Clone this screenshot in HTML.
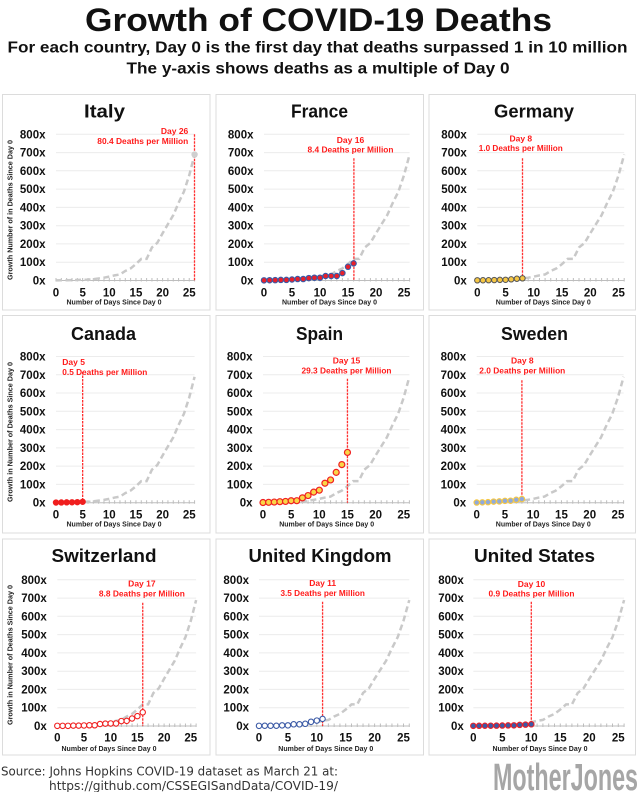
<!DOCTYPE html>
<html><head><meta charset="utf-8"><style>
html,body{margin:0;padding:0;background:#fff;}
svg{display:block;}
.pn{fill:#fff;stroke:#dcdcdc;stroke-width:1}
.g{stroke:#ececec;stroke-width:1}
.ax{stroke:#bdbdbd;stroke-width:1}
.tk{stroke:#bdbdbd;stroke-width:3.5}
.yl{font-family:"Liberation Sans",sans-serif;font-weight:bold;font-size:11.5px;fill:#111;text-anchor:end}
.xl{font-family:"Liberation Sans",sans-serif;font-weight:bold;font-size:11.5px;fill:#111;text-anchor:middle}
.cv{fill:none;stroke:#c9c9c9;stroke-width:2.5;stroke-dasharray:6 3.5}
.rl{stroke:#ff3030;stroke-width:1.3;stroke-dasharray:2.5 1}
.rt{font-family:"Liberation Sans",sans-serif;font-weight:bold;font-size:8.5px;fill:#ff1a1a;text-anchor:middle}
.tt{font-family:"Liberation Sans",sans-serif;font-weight:bold;font-size:18px;fill:#111;text-anchor:middle}
.at{font-family:"Liberation Sans",sans-serif;font-weight:bold;font-size:7px;fill:#222;text-anchor:middle}
</style></head><body>
<svg width="639" height="792" viewBox="0 0 639 792" xmlns="http://www.w3.org/2000/svg">
<rect width="639" height="792" fill="#fff"/>
<text x="318.5" y="31" font-family="Liberation Sans, sans-serif" font-weight="bold" font-size="32" fill="#111" text-anchor="middle" textLength="467" lengthAdjust="spacingAndGlyphs">Growth of COVID-19 Deaths</text>
<text x="317.5" y="52.5" font-family="Liberation Sans, sans-serif" font-weight="bold" font-size="15.5" fill="#111" text-anchor="middle" textLength="620" lengthAdjust="spacingAndGlyphs">For each country, Day 0 is the first day that deaths surpassed 1 in 10 million</text>
<text x="318" y="73.5" font-family="Liberation Sans, sans-serif" font-weight="bold" font-size="15.5" fill="#111" text-anchor="middle" textLength="383" lengthAdjust="spacingAndGlyphs">The y-axis shows deaths as a multiple of Day 0</text>

<!-- panels -->
<rect class="pn" x="2.5" y="94.5" width="207.5" height="215.5"/>
<rect class="pn" x="216" y="94.5" width="207.5" height="215.5"/>
<rect class="pn" x="429" y="94.5" width="206.5" height="215.5"/>
<rect class="pn" x="2.5" y="315.5" width="207.5" height="217.5"/>
<rect class="pn" x="216" y="315.5" width="207.5" height="217.5"/>
<rect class="pn" x="429" y="315.5" width="206.5" height="217.5"/>
<rect class="pn" x="2.5" y="539" width="207.5" height="216"/>
<rect class="pn" x="216" y="539" width="207.5" height="216"/>
<rect class="pn" x="429" y="539" width="206.5" height="216"/>

<!-- titles -->
<text class="tt" x="104.5" y="117.5" textLength="41" lengthAdjust="spacingAndGlyphs">Italy</text>
<text class="tt" x="319.5" y="117.5" textLength="57" lengthAdjust="spacingAndGlyphs">France</text>
<text class="tt" x="534" y="117.5" textLength="80" lengthAdjust="spacingAndGlyphs">Germany</text>
<text class="tt" x="103.5" y="340" textLength="65" lengthAdjust="spacingAndGlyphs">Canada</text>
<text class="tt" x="319.5" y="340" textLength="47" lengthAdjust="spacingAndGlyphs">Spain</text>
<text class="tt" x="534.5" y="340" textLength="67" lengthAdjust="spacingAndGlyphs">Sweden</text>
<text class="tt" x="104" y="562" textLength="105" lengthAdjust="spacingAndGlyphs">Switzerland</text>
<text class="tt" x="320" y="562" textLength="143" lengthAdjust="spacingAndGlyphs">United Kingdom</text>
<text class="tt" x="534.5" y="562" textLength="121" lengthAdjust="spacingAndGlyphs">United States</text>

<!-- y-axis titles col1 -->
<text class="at" transform="translate(12.5,210) rotate(-90)" x="0" y="0" textLength="140" lengthAdjust="spacingAndGlyphs">Growth Number of in Deaths Since Day 0</text>
<text class="at" transform="translate(12.5,432) rotate(-90)" x="0" y="0" textLength="140" lengthAdjust="spacingAndGlyphs">Growth in Number of Deaths Since Day 0</text>
<text class="at" transform="translate(12.5,655) rotate(-90)" x="0" y="0" textLength="140" lengthAdjust="spacingAndGlyphs">Growth in Number of Deaths Since Day 0</text>

<!-- x-axis titles -->
<text class="at" x="114" y="304.5" textLength="95" lengthAdjust="spacingAndGlyphs">Number of Days Since Day 0</text>
<text class="at" x="329.5" y="304.5" textLength="95" lengthAdjust="spacingAndGlyphs">Number of Days Since Day 0</text>
<text class="at" x="543.3" y="304.5" textLength="95" lengthAdjust="spacingAndGlyphs">Number of Days Since Day 0</text>
<text class="at" x="114" y="526.5" textLength="95" lengthAdjust="spacingAndGlyphs">Number of Days Since Day 0</text>
<text class="at" x="326.7" y="526.5" textLength="95" lengthAdjust="spacingAndGlyphs">Number of Days Since Day 0</text>
<text class="at" x="543.3" y="526.5" textLength="95" lengthAdjust="spacingAndGlyphs">Number of Days Since Day 0</text>
<text class="at" x="109" y="750.8" textLength="95" lengthAdjust="spacingAndGlyphs">Number of Days Since Day 0</text>
<text class="at" x="325.8" y="750.8" textLength="95" lengthAdjust="spacingAndGlyphs">Number of Days Since Day 0</text>
<text class="at" x="540" y="750.8" textLength="95" lengthAdjust="spacingAndGlyphs">Number of Days Since Day 0</text>

<!-- ===== ITALY ===== -->
<g transform="translate(56,280.5)">
<g class="g"><line x1="0" x2="138.6" y1="-18.3" y2="-18.3"/><line x1="0" x2="138.6" y1="-36.6" y2="-36.6"/><line x1="0" x2="138.6" y1="-54.8" y2="-54.8"/><line x1="0" x2="138.6" y1="-73.1" y2="-73.1"/><line x1="0" x2="138.6" y1="-91.4" y2="-91.4"/><line x1="0" x2="138.6" y1="-109.7" y2="-109.7"/><line x1="0" x2="138.6" y1="-127.9" y2="-127.9"/><line x1="0" x2="138.6" y1="-146.2" y2="-146.2"/></g>
<line class="ax" x1="0" x2="138.6" y1="0" y2="0"/>
<line class="tk" x1="-0.5" x2="139.1" y1="-0.75" y2="-0.75" stroke-dasharray="1 4.33"/>
<text class="yl" x="-10.5" y="-142.2">800x</text><text class="yl" x="-10.5" y="-123.9">700x</text><text class="yl" x="-10.5" y="-105.7">600x</text><text class="yl" x="-10.5" y="-87.4">500x</text><text class="yl" x="-10.5" y="-69.1">400x</text><text class="yl" x="-10.5" y="-50.8">300x</text><text class="yl" x="-10.5" y="-32.6">200x</text><text class="yl" x="-10.5" y="-14.3">100x</text><text class="yl" x="-10.5" y="4">0x</text>
<text class="xl" x="0" y="16.2">0</text><text class="xl" x="26.65" y="16.2">5</text><text class="xl" x="53.3" y="16.2">10</text><text class="xl" x="79.95" y="16.2">15</text><text class="xl" x="106.6" y="16.2">20</text><text class="xl" x="133.25" y="16.2">25</text>
<polyline class="cv" points="0,-0.18 5.33,-0.26 10.66,-0.31 15.99,-0.44 21.32,-0.55 26.65,-0.76 31.98,-0.89 37.31,-1.36 42.64,-2.06 47.97,-2.8 53.3,-3.85 58.63,-5.13 63.96,-6.08 69.29,-9.56 74.62,-12.08 79.95,-16.46 85.28,-21.58 90.61,-21.58 95.94,-33.05 101.27,-37.62 106.6,-47.21 111.93,-56.33 117.26,-65.33 122.59,-77.72 127.92,-88.87 133.25,-105.24 138.58,-125.94"/>
<line class="rl" x1="138.5" x2="138.5" y1="-146.2" y2="0"/>
<circle cx="138.58" cy="-125.94" r="3.2" fill="#cfcfcf"/>
<text class="rt" x="132.3" y="-146.5" style="text-anchor:end">Day 26</text>
<text class="rt" x="132.3" y="-136.5" style="text-anchor:end" textLength="91" lengthAdjust="spacingAndGlyphs">80.4 Deaths per Million</text>
</g>

<!-- ===== FRANCE ===== -->
<g transform="translate(264,280.5)">
<g class="g"><line x1="0" x2="145.6" y1="-18.3" y2="-18.3"/><line x1="0" x2="145.6" y1="-36.6" y2="-36.6"/><line x1="0" x2="145.6" y1="-54.8" y2="-54.8"/><line x1="0" x2="145.6" y1="-73.1" y2="-73.1"/><line x1="0" x2="145.6" y1="-91.4" y2="-91.4"/><line x1="0" x2="145.6" y1="-109.7" y2="-109.7"/><line x1="0" x2="145.6" y1="-127.9" y2="-127.9"/><line x1="0" x2="145.6" y1="-146.2" y2="-146.2"/></g>
<line class="ax" x1="0" x2="145.6" y1="0" y2="0"/>
<line class="tk" x1="-0.5" x2="146.1" y1="-0.75" y2="-0.75" stroke-dasharray="1 4.6"/>
<text class="yl" x="-10.5" y="-142.2">800x</text><text class="yl" x="-10.5" y="-123.9">700x</text><text class="yl" x="-10.5" y="-105.7">600x</text><text class="yl" x="-10.5" y="-87.4">500x</text><text class="yl" x="-10.5" y="-69.1">400x</text><text class="yl" x="-10.5" y="-50.8">300x</text><text class="yl" x="-10.5" y="-32.6">200x</text><text class="yl" x="-10.5" y="-14.3">100x</text><text class="yl" x="-10.5" y="4">0x</text>
<text class="xl" x="0" y="16.2">0</text><text class="xl" x="28" y="16.2">5</text><text class="xl" x="56" y="16.2">10</text><text class="xl" x="84" y="16.2">15</text><text class="xl" x="112" y="16.2">20</text><text class="xl" x="140" y="16.2">25</text>
<polyline class="cv" points="0,-0.18 5.6,-0.26 11.2,-0.31 16.8,-0.44 22.4,-0.55 28,-0.76 33.6,-0.89 39.2,-1.36 44.8,-2.06 50.4,-2.8 56,-3.85 61.6,-5.13 67.2,-6.08 72.8,-9.56 78.4,-12.08 84,-16.46 89.6,-21.58 95.2,-21.58 100.8,-33.05 106.4,-37.62 112,-47.21 117.6,-56.33 123.2,-65.33 128.8,-77.72 134.4,-88.87 140,-105.24 145.6,-125.94"/>
<line class="rl" x1="89.9" x2="89.9" y1="-122.2" y2="0"/>
<g fill="#e8202a" stroke="#3b5aa6" stroke-width="1.1">
<circle cx="0" cy="-0.18" r="2.7"/><circle cx="5.6" cy="-0.27" r="2.7"/><circle cx="11.2" cy="-0.33" r="2.7"/><circle cx="16.8" cy="-0.58" r="2.7"/><circle cx="22.4" cy="-0.58" r="2.7"/><circle cx="28" cy="-1" r="2.7"/><circle cx="33.6" cy="-1.46" r="2.7"/><circle cx="39.2" cy="-1.46" r="2.7"/><circle cx="44.8" cy="-2.41" r="2.7"/><circle cx="50.4" cy="-2.78" r="2.7"/><circle cx="56" cy="-2.78" r="2.7"/><circle cx="61.6" cy="-4.51" r="2.7"/><circle cx="67.2" cy="-4.51" r="2.7"/><circle cx="72.8" cy="-4.51" r="2.7"/><circle cx="78.4" cy="-7.4" r="2.7"/><circle cx="84" cy="-13.7" r="2.7"/><circle cx="89.6" cy="-17.12" r="2.7"/>
</g>
<text class="rt" x="86.5" y="-137.5">Day 16</text>
<text class="rt" x="86.5" y="-128" textLength="86" lengthAdjust="spacingAndGlyphs">8.4 Deaths per Million</text>
</g>

<!-- ===== GERMANY ===== -->
<g transform="translate(477.3,280.5)">
<g class="g"><line x1="0" x2="146.9" y1="-18.3" y2="-18.3"/><line x1="0" x2="146.9" y1="-36.6" y2="-36.6"/><line x1="0" x2="146.9" y1="-54.8" y2="-54.8"/><line x1="0" x2="146.9" y1="-73.1" y2="-73.1"/><line x1="0" x2="146.9" y1="-91.4" y2="-91.4"/><line x1="0" x2="146.9" y1="-109.7" y2="-109.7"/><line x1="0" x2="146.9" y1="-127.9" y2="-127.9"/><line x1="0" x2="146.9" y1="-146.2" y2="-146.2"/></g>
<line class="ax" x1="0" x2="146.9" y1="0" y2="0"/>
<line class="tk" x1="-0.5" x2="147.4" y1="-0.75" y2="-0.75" stroke-dasharray="1 4.65"/>
<text class="yl" x="-10.5" y="-142.2">800x</text><text class="yl" x="-10.5" y="-123.9">700x</text><text class="yl" x="-10.5" y="-105.7">600x</text><text class="yl" x="-10.5" y="-87.4">500x</text><text class="yl" x="-10.5" y="-69.1">400x</text><text class="yl" x="-10.5" y="-50.8">300x</text><text class="yl" x="-10.5" y="-32.6">200x</text><text class="yl" x="-10.5" y="-14.3">100x</text><text class="yl" x="-10.5" y="4">0x</text>
<text class="xl" x="0" y="16.2">0</text><text class="xl" x="28.25" y="16.2">5</text><text class="xl" x="56.5" y="16.2">10</text><text class="xl" x="84.75" y="16.2">15</text><text class="xl" x="113" y="16.2">20</text><text class="xl" x="141.25" y="16.2">25</text>
<polyline class="cv" points="0,-0.18 5.65,-0.26 11.3,-0.31 16.95,-0.44 22.6,-0.55 28.25,-0.76 33.9,-0.89 39.55,-1.36 45.2,-2.06 50.85,-2.8 56.5,-3.85 62.15,-5.13 67.8,-6.08 73.45,-9.56 79.1,-12.08 84.75,-16.46 90.4,-21.58 96.05,-21.58 101.7,-33.05 107.35,-37.62 113,-47.21 118.65,-56.33 124.3,-65.33 129.95,-77.72 135.6,-88.87 141.25,-105.24 146.9,-125.94"/>
<line class="rl" x1="45.2" x2="45.2" y1="-122.2" y2="0"/>
<g fill="#f6c744" stroke="#555" stroke-width="1">
<circle cx="0" cy="-0.18" r="2.7"/><circle cx="5.65" cy="-0.24" r="2.7"/><circle cx="11.3" cy="-0.29" r="2.7"/><circle cx="16.95" cy="-0.44" r="2.7"/><circle cx="22.6" cy="-0.63" r="2.7"/><circle cx="28.25" cy="-0.73" r="2.7"/><circle cx="33.9" cy="-1.15" r="2.7"/><circle cx="39.55" cy="-1.75" r="2.7"/><circle cx="45.2" cy="-2.19" r="2.7"/>
</g>
<text class="rt" x="43.5" y="-139">Day 8</text>
<text class="rt" x="43.5" y="-129.5" textLength="84" lengthAdjust="spacingAndGlyphs">1.0 Deaths per Million</text>
</g>

<!-- ===== CANADA ===== -->
<g transform="translate(56,502.7)">
<g class="g"><line x1="0" x2="138.6" y1="-18.3" y2="-18.3"/><line x1="0" x2="138.6" y1="-36.6" y2="-36.6"/><line x1="0" x2="138.6" y1="-54.8" y2="-54.8"/><line x1="0" x2="138.6" y1="-73.1" y2="-73.1"/><line x1="0" x2="138.6" y1="-91.4" y2="-91.4"/><line x1="0" x2="138.6" y1="-109.7" y2="-109.7"/><line x1="0" x2="138.6" y1="-127.9" y2="-127.9"/><line x1="0" x2="138.6" y1="-146.2" y2="-146.2"/></g>
<line class="ax" x1="0" x2="138.6" y1="0" y2="0"/>
<line class="tk" x1="-0.5" x2="139.1" y1="-0.75" y2="-0.75" stroke-dasharray="1 4.33"/>
<text class="yl" x="-10.5" y="-142.2">800x</text><text class="yl" x="-10.5" y="-123.9">700x</text><text class="yl" x="-10.5" y="-105.7">600x</text><text class="yl" x="-10.5" y="-87.4">500x</text><text class="yl" x="-10.5" y="-69.1">400x</text><text class="yl" x="-10.5" y="-50.8">300x</text><text class="yl" x="-10.5" y="-32.6">200x</text><text class="yl" x="-10.5" y="-14.3">100x</text><text class="yl" x="-10.5" y="4">0x</text>
<text class="xl" x="0" y="16">0</text><text class="xl" x="26.65" y="16">5</text><text class="xl" x="53.3" y="16">10</text><text class="xl" x="79.95" y="16">15</text><text class="xl" x="106.6" y="16">20</text><text class="xl" x="133.25" y="16">25</text>
<polyline class="cv" points="0,-0.18 5.33,-0.26 10.66,-0.31 15.99,-0.44 21.32,-0.55 26.65,-0.76 31.98,-0.89 37.31,-1.36 42.64,-2.06 47.97,-2.8 53.3,-3.85 58.63,-5.13 63.96,-6.08 69.29,-9.56 74.62,-12.08 79.95,-16.46 85.28,-21.58 90.61,-21.58 95.94,-33.05 101.27,-37.62 106.6,-47.21 111.93,-56.33 117.26,-65.33 122.59,-77.72 127.92,-88.87 133.25,-105.24 138.58,-125.94"/>
<line class="rl" x1="26.65" x2="26.65" y1="-130.7" y2="0"/>
<g fill="#f01e1e" stroke="#f01e1e" stroke-width="1">
<circle cx="0" cy="-0.18" r="2.7"/><circle cx="5.33" cy="-0.23" r="2.7"/><circle cx="10.66" cy="-0.37" r="2.7"/><circle cx="15.99" cy="-0.41" r="2.7"/><circle cx="21.32" cy="-0.55" r="2.7"/><circle cx="26.65" cy="-0.91" r="2.7"/>
</g>
<text class="rt" x="6.3" y="-137.7" style="text-anchor:start">Day 5</text>
<text class="rt" x="6.3" y="-127.7" style="text-anchor:start" textLength="85" lengthAdjust="spacingAndGlyphs">0.5 Deaths per Million</text>
</g>

<!-- ===== SPAIN ===== -->
<g transform="translate(263,502.7)">
<g class="g"><line x1="0" x2="146.4" y1="-18.3" y2="-18.3"/><line x1="0" x2="146.4" y1="-36.6" y2="-36.6"/><line x1="0" x2="146.4" y1="-54.8" y2="-54.8"/><line x1="0" x2="146.4" y1="-73.1" y2="-73.1"/><line x1="0" x2="146.4" y1="-91.4" y2="-91.4"/><line x1="0" x2="146.4" y1="-109.7" y2="-109.7"/><line x1="0" x2="146.4" y1="-127.9" y2="-127.9"/><line x1="0" x2="146.4" y1="-146.2" y2="-146.2"/></g>
<line class="ax" x1="0" x2="146.4" y1="0" y2="0"/>
<line class="tk" x1="-0.5" x2="146.9" y1="-0.75" y2="-0.75" stroke-dasharray="1 4.63"/>
<text class="yl" x="-10.5" y="-142.2">800x</text><text class="yl" x="-10.5" y="-123.9">700x</text><text class="yl" x="-10.5" y="-105.7">600x</text><text class="yl" x="-10.5" y="-87.4">500x</text><text class="yl" x="-10.5" y="-69.1">400x</text><text class="yl" x="-10.5" y="-50.8">300x</text><text class="yl" x="-10.5" y="-32.6">200x</text><text class="yl" x="-10.5" y="-14.3">100x</text><text class="yl" x="-10.5" y="4">0x</text>
<text class="xl" x="0" y="16">0</text><text class="xl" x="28.15" y="16">5</text><text class="xl" x="56.3" y="16">10</text><text class="xl" x="84.45" y="16">15</text><text class="xl" x="112.6" y="16">20</text><text class="xl" x="140.75" y="16">25</text>
<polyline class="cv" points="0,-0.18 5.63,-0.26 11.26,-0.31 16.89,-0.44 22.52,-0.55 28.15,-0.76 33.78,-0.89 39.41,-1.36 45.04,-2.06 50.67,-2.8 56.3,-3.85 61.93,-5.13 67.56,-6.08 73.19,-9.56 78.82,-12.08 84.45,-16.46 90.08,-21.58 95.71,-21.58 101.34,-33.05 106.97,-37.62 112.6,-47.21 118.23,-56.33 123.86,-65.33 129.49,-77.72 135.12,-88.87 140.75,-105.24 146.38,-125.94"/>
<line class="rl" x1="84.45" x2="84.45" y1="-124" y2="0"/>
<g fill="#f9d648" stroke="#f02020" stroke-width="1.2">
<circle cx="0" cy="-0.18" r="3"/><circle cx="5.63" cy="-0.37" r="3"/><circle cx="11.26" cy="-0.62" r="3"/><circle cx="16.89" cy="-1.02" r="3"/><circle cx="22.52" cy="-1.28" r="3"/><circle cx="28.15" cy="-1.97" r="3"/><circle cx="33.78" cy="-2.01" r="3"/><circle cx="39.41" cy="-4.86" r="3"/><circle cx="45.04" cy="-7.13" r="3"/><circle cx="50.67" cy="-10.56" r="3"/><circle cx="56.3" cy="-12.5" r="3"/><circle cx="61.93" cy="-19.48" r="3"/><circle cx="67.56" cy="-22.76" r="3"/><circle cx="73.19" cy="-30.33" r="3"/><circle cx="78.82" cy="-38.11" r="3"/><circle cx="84.45" cy="-50.24" r="3"/>
</g>
<text class="rt" x="83.5" y="-139.2">Day 15</text>
<text class="rt" x="83.5" y="-129.2" textLength="90" lengthAdjust="spacingAndGlyphs">29.3 Deaths per Million</text>
</g>

<!-- ===== SWEDEN ===== -->
<g transform="translate(476.7,502.7)">
<g class="g"><line x1="0" x2="146.9" y1="-18.3" y2="-18.3"/><line x1="0" x2="146.9" y1="-36.6" y2="-36.6"/><line x1="0" x2="146.9" y1="-54.8" y2="-54.8"/><line x1="0" x2="146.9" y1="-73.1" y2="-73.1"/><line x1="0" x2="146.9" y1="-91.4" y2="-91.4"/><line x1="0" x2="146.9" y1="-109.7" y2="-109.7"/><line x1="0" x2="146.9" y1="-127.9" y2="-127.9"/><line x1="0" x2="146.9" y1="-146.2" y2="-146.2"/></g>
<line class="ax" x1="0" x2="146.9" y1="0" y2="0"/>
<line class="tk" x1="-0.5" x2="147.4" y1="-0.75" y2="-0.75" stroke-dasharray="1 4.65"/>
<text class="yl" x="-10.5" y="-142.2">800x</text><text class="yl" x="-10.5" y="-123.9">700x</text><text class="yl" x="-10.5" y="-105.7">600x</text><text class="yl" x="-10.5" y="-87.4">500x</text><text class="yl" x="-10.5" y="-69.1">400x</text><text class="yl" x="-10.5" y="-50.8">300x</text><text class="yl" x="-10.5" y="-32.6">200x</text><text class="yl" x="-10.5" y="-14.3">100x</text><text class="yl" x="-10.5" y="4">0x</text>
<text class="xl" x="0" y="16">0</text><text class="xl" x="28.25" y="16">5</text><text class="xl" x="56.5" y="16">10</text><text class="xl" x="84.75" y="16">15</text><text class="xl" x="113" y="16">20</text><text class="xl" x="141.25" y="16">25</text>
<polyline class="cv" points="0,-0.18 5.65,-0.26 11.3,-0.31 16.95,-0.44 22.6,-0.55 28.25,-0.76 33.9,-0.89 39.55,-1.36 45.2,-2.06 50.85,-2.8 56.5,-3.85 62.15,-5.13 67.8,-6.08 73.45,-9.56 79.1,-12.08 84.75,-16.46 90.4,-21.58 96.05,-21.58 101.7,-33.05 107.35,-37.62 113,-47.21 118.65,-56.33 124.3,-65.33 129.95,-77.72 135.6,-88.87 141.25,-105.24 146.9,-125.94"/>
<line class="rl" x1="45.2" x2="45.2" y1="-122.4" y2="0"/>
<g fill="#8faadc" stroke="#f5c744" stroke-width="1.1">
<circle cx="0" cy="-0.18" r="2.7"/><circle cx="5.65" cy="-0.37" r="2.7"/><circle cx="11.3" cy="-0.55" r="2.7"/><circle cx="16.95" cy="-1.1" r="2.7"/><circle cx="22.6" cy="-1.28" r="2.7"/><circle cx="28.25" cy="-1.83" r="2.7"/><circle cx="33.9" cy="-2.01" r="2.7"/><circle cx="39.55" cy="-2.92" r="2.7"/><circle cx="45.2" cy="-3.65" r="2.7"/>
</g>
<text class="rt" x="45.6" y="-139.2">Day 8</text>
<text class="rt" x="45.6" y="-129.2" textLength="86" lengthAdjust="spacingAndGlyphs">2.0 Deaths per Million</text>
</g>

<!-- ===== SWITZERLAND ===== -->
<g transform="translate(57.3,726)">
<g class="g"><line x1="0" x2="138.8" y1="-18.3" y2="-18.3"/><line x1="0" x2="138.8" y1="-36.6" y2="-36.6"/><line x1="0" x2="138.8" y1="-54.8" y2="-54.8"/><line x1="0" x2="138.8" y1="-73.1" y2="-73.1"/><line x1="0" x2="138.8" y1="-91.4" y2="-91.4"/><line x1="0" x2="138.8" y1="-109.7" y2="-109.7"/><line x1="0" x2="138.8" y1="-127.9" y2="-127.9"/><line x1="0" x2="138.8" y1="-146.2" y2="-146.2"/></g>
<line class="ax" x1="0" x2="138.8" y1="0" y2="0"/>
<line class="tk" x1="-0.5" x2="139.3" y1="-0.75" y2="-0.75" stroke-dasharray="1 4.34"/>
<text class="yl" x="-10.5" y="-142.2">800x</text><text class="yl" x="-10.5" y="-123.9">700x</text><text class="yl" x="-10.5" y="-105.7">600x</text><text class="yl" x="-10.5" y="-87.4">500x</text><text class="yl" x="-10.5" y="-69.1">400x</text><text class="yl" x="-10.5" y="-50.8">300x</text><text class="yl" x="-10.5" y="-32.6">200x</text><text class="yl" x="-10.5" y="-14.3">100x</text><text class="yl" x="-10.5" y="4">0x</text>
<text class="xl" x="0" y="15.5">0</text><text class="xl" x="26.7" y="15.5">5</text><text class="xl" x="53.4" y="15.5">10</text><text class="xl" x="80.1" y="15.5">15</text><text class="xl" x="106.8" y="15.5">20</text><text class="xl" x="133.5" y="15.5">25</text>
<polyline class="cv" points="0,-0.18 5.34,-0.26 10.68,-0.31 16.02,-0.44 21.36,-0.55 26.7,-0.76 32.04,-0.89 37.38,-1.36 42.72,-2.06 48.06,-2.8 53.4,-3.85 58.74,-5.13 64.08,-6.08 69.42,-9.56 74.76,-12.08 80.1,-16.46 85.44,-21.58 90.78,-21.58 96.12,-33.05 101.46,-37.62 106.8,-47.21 112.14,-56.33 117.48,-65.33 122.82,-77.72 128.16,-88.87 133.5,-105.24 138.84,-125.94"/>
<line class="rl" x1="85.44" x2="85.44" y1="-123.3" y2="0"/>
<g fill="#fff" stroke="#f02020" stroke-width="1.1">
<circle cx="0" cy="-0.18" r="2.7"/><circle cx="5.34" cy="-0.18" r="2.7"/><circle cx="10.68" cy="-0.18" r="2.7"/><circle cx="16.02" cy="-0.37" r="2.7"/><circle cx="21.36" cy="-0.37" r="2.7"/><circle cx="26.7" cy="-0.55" r="2.7"/><circle cx="32.04" cy="-0.73" r="2.7"/><circle cx="37.38" cy="-0.73" r="2.7"/><circle cx="42.72" cy="-2.01" r="2.7"/><circle cx="48.06" cy="-2.38" r="2.7"/><circle cx="53.4" cy="-2.56" r="2.7"/><circle cx="58.74" cy="-2.56" r="2.7"/><circle cx="64.08" cy="-4.93" r="2.7"/><circle cx="69.42" cy="-5.12" r="2.7"/><circle cx="74.76" cy="-7.49" r="2.7"/><circle cx="80.1" cy="-9.87" r="2.7"/><circle cx="85.44" cy="-13.7" r="2.7"/>
</g>
<text class="rt" x="84.6" y="-139.5">Day 17</text>
<text class="rt" x="84.6" y="-129.5" textLength="86" lengthAdjust="spacingAndGlyphs">8.8 Deaths per Million</text>
</g>

<!-- ===== UNITED KINGDOM ===== -->
<g transform="translate(259,726)">
<g class="g"><line x1="0" x2="150.3" y1="-18.3" y2="-18.3"/><line x1="0" x2="150.3" y1="-36.6" y2="-36.6"/><line x1="0" x2="150.3" y1="-54.8" y2="-54.8"/><line x1="0" x2="150.3" y1="-73.1" y2="-73.1"/><line x1="0" x2="150.3" y1="-91.4" y2="-91.4"/><line x1="0" x2="150.3" y1="-109.7" y2="-109.7"/><line x1="0" x2="150.3" y1="-127.9" y2="-127.9"/><line x1="0" x2="150.3" y1="-146.2" y2="-146.2"/></g>
<line class="ax" x1="0" x2="150.3" y1="0" y2="0"/>
<line class="tk" x1="-0.5" x2="150.8" y1="-0.75" y2="-0.75" stroke-dasharray="1 4.78"/>
<text class="yl" x="-10" y="-142.2">800x</text><text class="yl" x="-10" y="-123.9">700x</text><text class="yl" x="-10" y="-105.7">600x</text><text class="yl" x="-10" y="-87.4">500x</text><text class="yl" x="-10" y="-69.1">400x</text><text class="yl" x="-10" y="-50.8">300x</text><text class="yl" x="-10" y="-32.6">200x</text><text class="yl" x="-10" y="-14.3">100x</text><text class="yl" x="-10" y="4">0x</text>
<text class="xl" x="0" y="15.5">0</text><text class="xl" x="28.9" y="15.5">5</text><text class="xl" x="57.8" y="15.5">10</text><text class="xl" x="86.7" y="15.5">15</text><text class="xl" x="115.6" y="15.5">20</text><text class="xl" x="144.5" y="15.5">25</text>
<polyline class="cv" points="0,-0.18 5.78,-0.26 11.56,-0.31 17.34,-0.44 23.12,-0.55 28.9,-0.76 34.68,-0.89 40.46,-1.36 46.24,-2.06 52.02,-2.8 57.8,-3.85 63.58,-5.13 69.36,-6.08 75.14,-9.56 80.92,-12.08 86.7,-16.46 92.48,-21.58 98.26,-21.58 104.04,-33.05 109.82,-37.62 115.6,-47.21 121.38,-56.33 127.16,-65.33 132.94,-77.72 138.72,-88.87 144.5,-105.24 150.28,-125.94"/>
<line class="rl" x1="63.58" x2="63.58" y1="-124.3" y2="0"/>
<g fill="#fff" stroke="#3b5aa6" stroke-width="1.1">
<circle cx="0" cy="-0.18" r="2.7"/><circle cx="5.78" cy="-0.24" r="2.7"/><circle cx="11.56" cy="-0.24" r="2.7"/><circle cx="17.34" cy="-0.24" r="2.7"/><circle cx="23.12" cy="-0.64" r="2.7"/><circle cx="28.9" cy="-0.64" r="2.7"/><circle cx="34.68" cy="-1.7" r="2.7"/><circle cx="40.46" cy="-1.7" r="2.7"/><circle cx="46.24" cy="-2.19" r="2.7"/><circle cx="52.02" cy="-4.2" r="2.7"/><circle cx="57.8" cy="-5.43" r="2.7"/><circle cx="63.58" cy="-7.13" r="2.7"/>
</g>
<text class="rt" x="63.7" y="-140">Day 11</text>
<text class="rt" x="63.7" y="-130" textLength="84.5" lengthAdjust="spacingAndGlyphs">3.5 Deaths per Million</text>
</g>

<!-- ===== UNITED STATES ===== -->
<g transform="translate(473.3,726)">
<g class="g"><line x1="0" x2="150.8" y1="-18.3" y2="-18.3"/><line x1="0" x2="150.8" y1="-36.6" y2="-36.6"/><line x1="0" x2="150.8" y1="-54.8" y2="-54.8"/><line x1="0" x2="150.8" y1="-73.1" y2="-73.1"/><line x1="0" x2="150.8" y1="-91.4" y2="-91.4"/><line x1="0" x2="150.8" y1="-109.7" y2="-109.7"/><line x1="0" x2="150.8" y1="-127.9" y2="-127.9"/><line x1="0" x2="150.8" y1="-146.2" y2="-146.2"/></g>
<line class="ax" x1="0" x2="150.8" y1="0" y2="0"/>
<line class="tk" x1="-0.5" x2="151.3" y1="-0.75" y2="-0.75" stroke-dasharray="1 4.8"/>
<text class="yl" x="-9.5" y="-142.2">800x</text><text class="yl" x="-9.5" y="-123.9">700x</text><text class="yl" x="-9.5" y="-105.7">600x</text><text class="yl" x="-9.5" y="-87.4">500x</text><text class="yl" x="-9.5" y="-69.1">400x</text><text class="yl" x="-9.5" y="-50.8">300x</text><text class="yl" x="-9.5" y="-32.6">200x</text><text class="yl" x="-9.5" y="-14.3">100x</text><text class="yl" x="-9.5" y="4">0x</text>
<text class="xl" x="0" y="15.5">0</text><text class="xl" x="29" y="15.5">5</text><text class="xl" x="58" y="15.5">10</text><text class="xl" x="87" y="15.5">15</text><text class="xl" x="116" y="15.5">20</text><text class="xl" x="145" y="15.5">25</text>
<polyline class="cv" points="0,-0.18 5.8,-0.26 11.6,-0.31 17.4,-0.44 23.2,-0.55 29,-0.76 34.8,-0.89 40.6,-1.36 46.4,-2.06 52.2,-2.8 58,-3.85 63.8,-5.13 69.6,-6.08 75.4,-9.56 81.2,-12.08 87,-16.46 92.8,-21.58 98.6,-21.58 104.4,-33.05 110.2,-37.62 116,-47.21 121.8,-56.33 127.6,-65.33 133.4,-77.72 139.2,-88.87 145,-105.24 150.8,-125.94"/>
<line class="rl" x1="58" x2="58" y1="-124.3" y2="0"/>
<g fill="#3b5aa6" stroke="#e8202a" stroke-width="1.1">
<circle cx="0" cy="-0.18" r="2.7"/><circle cx="5.8" cy="-0.22" r="2.7"/><circle cx="11.6" cy="-0.26" r="2.7"/><circle cx="17.4" cy="-0.29" r="2.7"/><circle cx="23.2" cy="-0.35" r="2.7"/><circle cx="29" cy="-0.48" r="2.7"/><circle cx="34.8" cy="-0.6" r="2.7"/><circle cx="40.6" cy="-0.66" r="2.7"/><circle cx="46.4" cy="-1.1" r="2.7"/><circle cx="52.2" cy="-1.35" r="2.7"/><circle cx="58" cy="-1.7" r="2.7"/>
</g>
<text class="rt" x="58.2" y="-139">Day 10</text>
<text class="rt" x="58.2" y="-129.5" textLength="86" lengthAdjust="spacingAndGlyphs">0.9 Deaths per Million</text>
</g>

<!-- footer -->
<text x="1" y="775.5" font-family="DejaVu Sans, sans-serif" font-size="12" fill="#333" textLength="337" lengthAdjust="spacingAndGlyphs">Source: Johns Hopkins COVID-19 dataset as March 21 at:</text>
<text x="49" y="790" font-family="DejaVu Sans, sans-serif" font-size="12" fill="#333" textLength="289" lengthAdjust="spacingAndGlyphs">https://github.com/CSSEGISandData/COVID-19/</text>
<text x="493" y="790" font-family="Liberation Sans Narrow, Liberation Sans, sans-serif" font-weight="bold" font-size="38" fill="#a6a6a6" textLength="145" lengthAdjust="spacingAndGlyphs">MotherJones</text>
</svg>
</body></html>
